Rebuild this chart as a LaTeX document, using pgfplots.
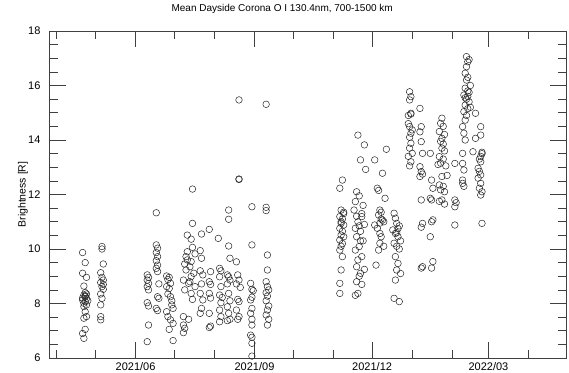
\documentclass[border=0pt]{standalone}
\usepackage{fontspec}
\setmainfont{Liberation Sans}
\usepackage{pgfplots}
\usepackage{pgfplotstable}
\pgfplotsset{compat=1.18}
\usetikzlibrary{calc}
\pgfplotstableread{
d v
110 9.87
112 9.5
110 9.11
113 8.96
111 8.64
111 8.31
112 8.25
113 8.19
110 8.13
112 8.07
111 8.01
113 8.35
112 8.28
110 8.2
114 8.1
111 7.89
112 7.7
113 7.52
111 7.46
112 7.05
110 6.9
111 6.72
113 7.95
112 8.4
125 10.09
125 10.0
126 9.45
124 9.13
125 8.96
126 8.86
124 8.77
125 8.62
126 8.52
124 8.35
125 8.19
124 7.95
124 7.52
124 7.4
126 8.7
160 9.05
161 8.96
160 8.86
161 8.74
160 8.62
161 8.5
160 8.03
161 7.91
161 7.21
160 6.6
167 11.33
167 10.15
168 10.03
167 9.87
168 9.72
167 9.57
168 9.41
167 9.29
168 9.17
169 8.72
168 8.25
169 8.19
167 7.82
168 7.74
175 9.01
177 8.96
176 8.88
178 8.74
175 8.62
177 8.55
176 8.35
178 8.25
179 8.1
179 7.95
180 7.82
175 7.7
176 7.52
178 7.4
180 7.27
177 7.05
180 6.64
195 12.2
195 10.94
191 10.51
194 10.36
195 10.06
191 9.9
197 9.82
190 9.72
194 9.54
189 9.45
193 9.35
190 9.23
196 9.11
194 8.99
188 8.86
192 8.74
197 8.62
189 8.5
194 8.37
195 8.15
188 7.52
192 7.42
188 7.21
189 7.09
188 6.93
193 8.8
191 9.6
202 10.55
201 9.94
202 9.66
201 9.2
203 9.05
202 8.72
201 8.37
203 8.13
202 7.82
201 7.64
208 10.72
209 9.17
208 8.8
209 8.7
208 8.37
209 8.2
208 7.64
209 7.17
208 7.12
215 10.39
216 9.29
217 9.2
216 8.98
217 8.62
216 8.31
218 8.22
217 8.03
216 7.76
217 7.52
216 7.33
223 11.43
223 11.09
223 10.11
224 9.66
222 9.05
223 8.98
224 8.86
222 8.72
223 8.37
224 8.1
222 7.88
223 7.64
224 7.42
222 7.37
231 15.47
231 12.57
231 12.55
229 9.53
230 9.05
231 8.86
229 8.72
232 8.59
230 8.15
231 8.07
229 7.76
231 7.52
230 7.42
241 11.55
241 10.15
240 8.74
241 8.52
242 8.47
241 8.23
240 8.13
241 7.82
240 7.64
241 7.42
241 7.21
240 6.84
241 6.76
241 6.54
241 6.07
252 15.31
252 11.53
252 11.41
253 9.78
253 9.23
252 8.8
253 8.62
254 8.5
252 8.4
253 8.27
252 8.1
254 7.91
253 7.76
252 7.58
254 7.42
253 7.21
311 12.53
309 12.23
310 11.43
312 11.35
309 11.19
311 11.1
310 10.94
312 10.88
309 10.76
311 10.65
310 10.51
312 10.45
309 10.33
311 10.2
310 10.1
309 9.96
311 9.72
310 9.23
309 8.74
309 8.37
312 11.3
310 11.0
323 14.18
328 13.82
325 13.27
329 12.92
322 12.1
324 11.95
321 11.74
327 11.6
320 11.43
326 11.19
323 11.0
328 10.9
321 10.76
325 10.65
322 10.45
327 10.3
324 10.09
321 9.96
326 9.72
323 9.6
322 9.35
328 9.25
325 9.11
324 9.0
322 8.8
326 8.7
323 8.37
321 8.3
324 10.85
326 11.3
322 11.2
325 10.3
345 13.66
336 13.27
342 12.78
338 12.23
339 12.15
344 11.86
340 11.43
341 11.35
339 11.25
342 11.06
336 10.88
338 10.76
340 10.57
341 10.45
340 10.21
343 10.1
339 9.96
337 9.41
341 11.1
343 11.0
340 10.95
351 11.31
352 11.13
353 10.94
355 10.85
350 10.7
352 10.57
354 10.45
351 10.21
353 10.1
355 10.0
352 9.72
354 9.47
353 9.23
356 9.1
352 8.86
351 8.19
355 8.07
356 10.3
354 10.75
353 10.6
363 15.77
364 15.59
363 15.47
364 14.98
362 14.9
363 14.49
365 14.37
364 14.25
363 14.1
364 13.88
363 13.7
365 13.51
362 13.4
364 13.2
363 13.05
362 14.6
364 14.95
371 15.16
372 14.49
371 14.3
372 13.94
373 13.51
371 13.02
372 12.84
373 12.75
371 12.66
372 11.8
373 10.94
372 10.8
373 9.35
372 9.3
379 13.51
380 12.53
381 12.23
379 11.86
380 11.8
381 11.07
380 11.0
379 10.45
381 9.54
380 9.3
388 14.8
387 14.61
389 14.5
386 14.31
390 14.2
388 14.06
387 13.95
389 13.85
388 13.7
390 13.6
386 13.39
389 13.3
387 13.15
391 13.05
388 12.66
386 12.35
389 12.3
387 12.17
390 12.1
388 11.8
386 11.75
390 11.65
392 12.7
385 13.1
398 13.14
398 11.8
399 11.7
398 11.55
398 10.88
407 17.06
409 16.95
408 16.87
407 16.69
406 16.45
408 16.3
407 16.2
406 15.9
408 15.8
405 15.65
407 15.5
409 15.4
406 15.28
408 15.15
405 15.04
407 14.9
406 14.73
404 14.49
405 14.25
406 14.0
404 13.51
404 13.14
405 12.9
404 12.53
404 12.41
405 12.3
408 15.6
409 15.75
410 15.2
406 15.55
410 16.0
414 14.98
418 14.49
418 14.18
414 14.06
412 13.57
419 13.5
418 13.2
416 12.96
417 12.85
418 12.72
416 12.6
418 12.41
417 12.23
419 12.1
418 11.98
419 10.94
419 13.55
418 13.4
417 13.3
}\datatable
\begin{document}
\begin{tikzpicture}
\begin{axis}[
  scale only axis, width=517pt, height=327pt,
  xmin=84, xmax=484, ymin=6, ymax=18,
  xtick={151,243,334,424},
  xticklabels={2021/06,2021/09,2021/12,2022/03},
  minor xtick={90,120,181,212,273,304,365,396,455},
  ytick={6,8,...,18},
  minor ytick={6.5,7,...,17.5},
  tick align=inside,
  major tick length=16.5pt, minor tick length=8.5pt,
  axis line style={line width=0.8pt, black!75},
  every tick/.style={line width=0.6pt, black!75},
  /pgf/number format/assume math mode=true,
  tick label style={font=\fontsize{11}{13}\selectfont},
  yticklabel style={xshift=-5pt},
  xticklabel style={yshift=-1pt},
  ylabel={Brightness [R]},
  ylabel style={at={(axis description cs:-0.0503,0.5)}, anchor=center, font=\fontsize{10.5}{12}\selectfont},
  title={Mean Dayside Corona O I 130.4nm, 700-1500 km},
  title style={at={(axis description cs:0.451,1)}, anchor=base, yshift=13.7pt, font=\fontsize{10}{12}\selectfont},
]
\coordinate (SW) at (rel axis cs:0,0);
\coordinate (NE) at (rel axis cs:1,1);
\addplot[only marks, mark=o, mark size=3.3pt, mark options={line width=0.5pt, draw=black!85}] table[x=d, y=v] {\datatable};
\end{axis}
\pgfresetboundingbox
\path[use as bounding box] ($(SW)+(-49pt,-14pt)$) rectangle ($(NE)+(3pt,31pt)$);
\end{tikzpicture}
\end{document}
